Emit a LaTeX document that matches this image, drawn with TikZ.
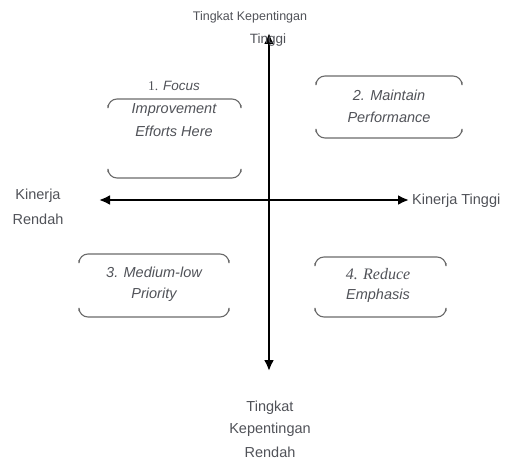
\documentclass[tikz,border=0pt]{standalone}
\usepackage{fontspec}
\setmainfont{Liberation Sans}
\newfontfamily\serifx{Liberation Serif}
\usetikzlibrary{arrows.meta}
\definecolor{txt}{HTML}{505258}
\definecolor{boxc}{HTML}{6A6A6A}
\tikzset{
  axis/.style={line width=2.6pt,{Latex[length=11pt,width=10pt]}-{Latex[length=11pt,width=10pt]}},
  brk/.style={draw=boxc,line width=1.1pt,rounded corners=9pt},
  lbl/.style={text=txt,font=\fontsize{14.5}{16}\selectfont,inner sep=0pt,align=center},
  qlbl/.style={text=txt,font=\fontsize{14.5}{16}\selectfont\itshape,inner sep=0pt,align=center}
}
\begin{document}
\begin{tikzpicture}[x=1pt,y=-1pt]
\useasboundingbox (0,0) rectangle (509,460);
% axes
\coordinate (vt) at (269,33);
\coordinate (vb) at (269,371);
\coordinate (hl) at (99,200);
\coordinate (hr) at (409,200);
\draw[axis] (vt) -- (vb);
\draw[axis] (hl) -- (hr);
% box 1
\draw[brk] (108,105) -- (108,99) -- (241,99) -- (241,105);
\draw[brk] (108,172) -- (108,178) -- (241,178) -- (241,172);
\node[lbl,font=\fontsize{13.5}{15}\selectfont] (q1t) at (174,86) {{\serifx 1.} \textit{Focus}};
\node[qlbl] (q1a) at (174,110) {Improvement};
\node[qlbl] (q1b) at (174,131) {Efforts Here};
% box 2
\draw[brk] (316,82) -- (316,76) -- (462,76) -- (462,82);
\draw[brk] (316,132) -- (316,138) -- (462,138) -- (462,132);
\node[qlbl] (q2a) at (389,95) {2. Maintain};
\node[qlbl] (q2b) at (389,117) {Performance};
% box 3
\draw[brk] (79,260) -- (79,254) -- (229,254) -- (229,260);
\draw[brk] (79,311) -- (79,317) -- (229,317) -- (229,311);
\node[qlbl] (q3a) at (154,272) {3. Medium-low};
\node[qlbl] (q3b) at (154,295) {Priority};
% box 4
\draw[brk] (315,263) -- (315,257) -- (446,257) -- (446,263);
\draw[brk] (315,311) -- (315,317) -- (446,317) -- (446,311);
\node[qlbl,font=\fontsize{16}{18}\selectfont\serifx\itshape] (q4a) at (378,274) {4. Reduce};
\node[qlbl] (q4b) at (378,296) {Emphasis};
% axis labels
\node[lbl,font=\fontsize{12.5}{14}\selectfont] (top1) at (250,17) {Tingkat Kepentingan};
\node[lbl,font=\fontsize{13.5}{15}\selectfont] (top2) at (268,40) {Tinggi};
\node[lbl] (l1) at (38,196) {Kinerja};
\node[lbl] (l2) at (38,219) {Rendah};
\node[lbl,anchor=west] (r1) at (412,201) {Kinerja Tinggi};
\node[lbl] (b1) at (270,408) {Tingkat};
\node[lbl] (b2) at (270,430) {Kepentingan};
\node[lbl] (b3) at (270,452) {Rendah};
\end{tikzpicture}
\end{document}
